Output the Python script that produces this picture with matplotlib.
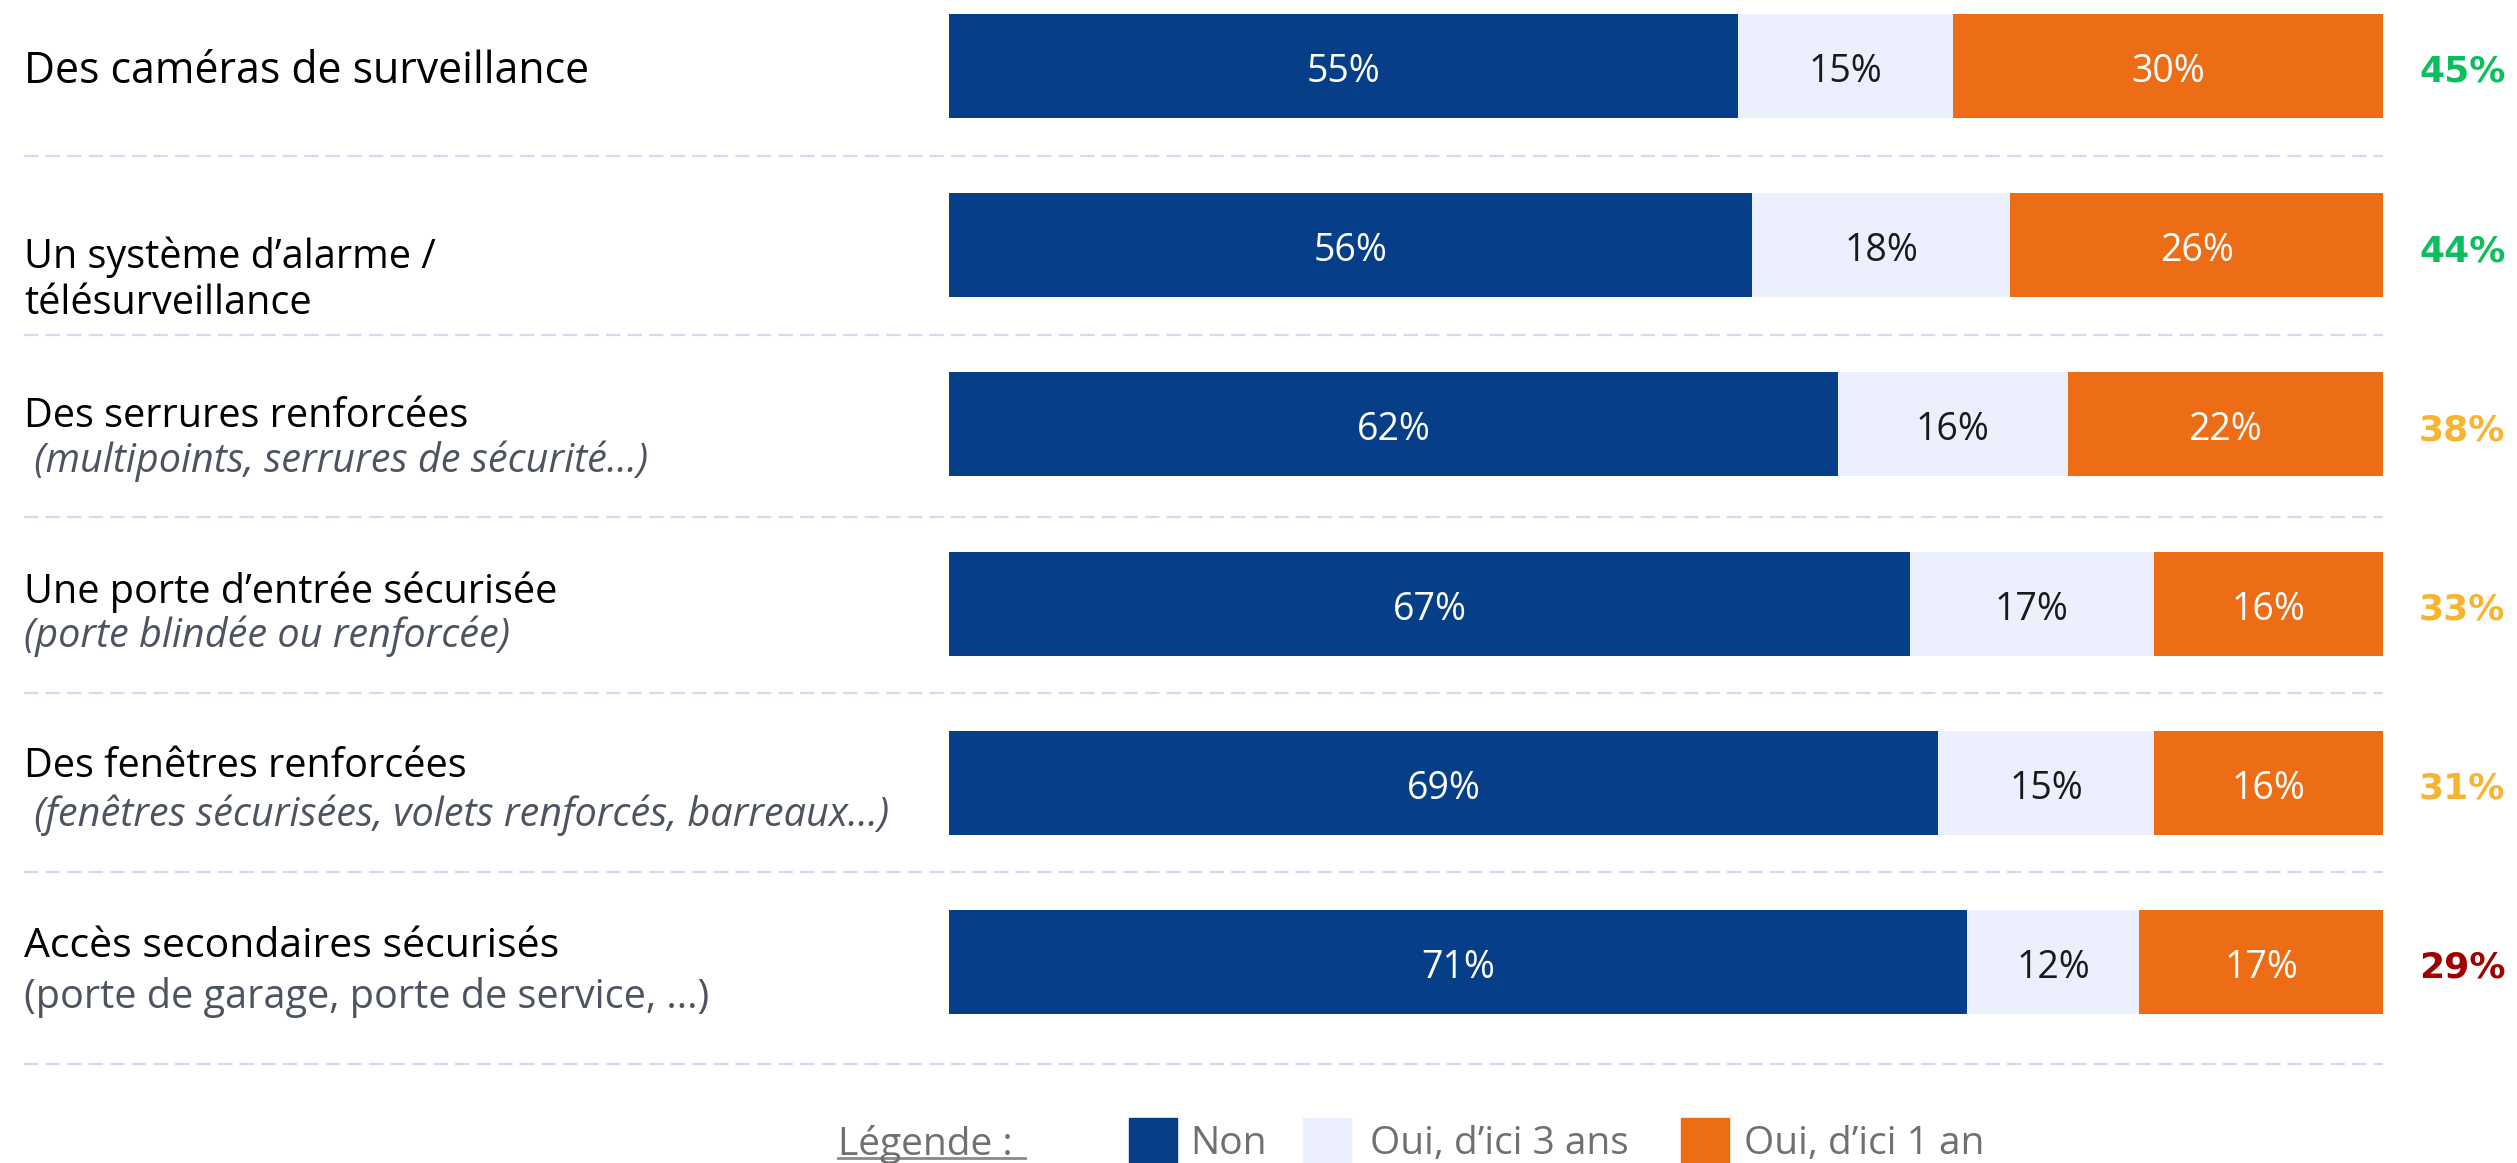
import matplotlib.pyplot as plt
from matplotlib.patches import Rectangle
from matplotlib.lines import Line2D
import numpy as np

# données
labels = ["Des caméras de surveillance",
          "Un système d\u2019alarme /\ntélésurveillance",
          "Des serrures renforcées",
          "Une porte d\u2019entrée sécurisée",
          "Des fenêtres renforcées",
          "Accès secondaires sécurisés"]
sous_labels = ["", "",
               " (multipoints, serrures de sécurité...)",
               "(porte blindée ou renforcée)",
               " (fenêtres sécurisées, volets renforcés, barreaux...)",
               "(porte de garage, porte de service, ...)"]
sous_italique = [False, False, True, True, True, False]
non = [55, 56, 62, 67, 69, 71]
oui_3ans = [15, 18, 16, 17, 15, 12]
oui_1an = [30, 26, 22, 16, 16, 17]
total_oui = [45, 44, 38, 33, 31, 29]
series = ["Non", "Oui, d\u2019ici 3 ans", "Oui, d\u2019ici 1 an"]

BLEU = "#063F87"
LAVANDE = "#ECEFFD"
ORANGE = "#EC6D15"
TIRET = "#D6D9F5"
GRIS = "#4D5360"


def couleur_total(v):
    if v >= 40:
        return "#0DBE5C"
    if v >= 30:
        return "#F7B431"
    return "#A00000"


W, H = 2517, 1163
fig = plt.figure(figsize=(W / 100, H / 100), dpi=100)
x0, x1 = 949, 2383
y0, pas = 66, 179.2
ax = fig.add_axes([x0 / W, 0, (x1 - x0) / W, 1])
ax.set_xlim(0, 100)
ax.set_ylim((H - y0) / pas, -y0 / pas)
ax.axis("off")


def xd(px):
    return (px - x0) / (x1 - x0) * 100


def yd(px):
    return (px - y0) / pas


y = np.arange(len(labels))
h = 104 / pas
ax.barh(y, non, height=h, color=BLEU)
ax.barh(y, oui_3ans, left=non, height=h, color=LAVANDE)
gauche = np.array(non) + np.array(oui_3ans)
ax.barh(y, oui_1an, left=gauche, height=h, color=ORANGE)

police = "Open Sans"
dy = 6 / pas  # recentrage vertical du texte
for i in range(len(labels)):
    ax.text(non[i] / 2, i + dy, f"{non[i]}%", color="white", fontsize=27,
            family=police, ha="center", va="center")
    ax.text(non[i] + oui_3ans[i] / 2, i + dy, f"{oui_3ans[i]}%", color="#1A1A1A",
            fontsize=27, family=police, ha="center", va="center")
    ax.text(gauche[i] + oui_1an[i] / 2, i + dy, f"{oui_1an[i]}%", color="white",
            fontsize=27, family=police, ha="center", va="center")
    ax.text(xd(2419), i + dy, f"{total_oui[i]}%", color=couleur_total(total_oui[i]),
            fontsize=26, fontweight="bold", family="DejaVu Sans",
            ha="left", va="center")

# libellés à gauche
decalages = [(0, 0), (6, 53), (-14, 31), (-17, 27), (-22, 26), (-21, 30)]
tailles = [30.9, 28.5, 28.5, 28.5, 28.5, 29.5]
for i, lab in enumerate(labels):
    d1, d2 = decalages[i]
    d1 = d1 / pas + dy
    d2 = d2 / pas + dy
    if "\n" in lab:
        l1, l2 = lab.split("\n")
        ax.text(xd(24), i + d1, l1, fontsize=tailles[i], family=police,
                color="black", ha="left", va="center")
        ax.text(xd(24), i + d2, l2, fontsize=tailles[i], family=police,
                color="black", ha="left", va="center")
    elif sous_labels[i]:
        ax.text(xd(24), i + d1, lab, fontsize=tailles[i], family=police,
                color="black", ha="left", va="center")
        ax.text(xd(24), i + d2, sous_labels[i], fontsize=28.5,
                family=police, color=GRIS, ha="left", va="center",
                style="italic" if sous_italique[i] else "normal")
    else:
        ax.text(xd(24), i + dy, lab, fontsize=tailles[i], family=police,
                color="black", ha="left", va="center")

# séparateurs
seps = [156, 335, 517, 693, 872, 1064]
for s in seps:
    ax.hlines(yd(s), xd(24), 100, colors=TIRET, linewidth=1.6,
              linestyles=(0, (6.5, 3.2)), clip_on=False)

# légende
ty = 1 - 1144 / H
fig.text(838 / W, ty, "Légende :", fontsize=28, family=police,
         color="#707070", ha="left", va="center")
fig.add_artist(Line2D([838 / W, 1025 / W], [1 - 1158 / H, 1 - 1158 / H],
                      color="#8A8A8A", linewidth=2))
carres = [(1129, BLEU), (1303, LAVANDE), (1681, ORANGE)]
textes_x = [1190, 1370, 1744]
for (cx, c), tx, nom in zip(carres, textes_x, series):
    fig.add_artist(Rectangle((cx / W, 1 - 1166 / H), 48 / W, 48 / H,
                             color=c, transform=fig.transFigure))
    fig.text(tx / W, ty, nom, fontsize=28, family=police,
             color="#707070", ha="left", va="center")

fig.savefig("out.png", dpi=100)
